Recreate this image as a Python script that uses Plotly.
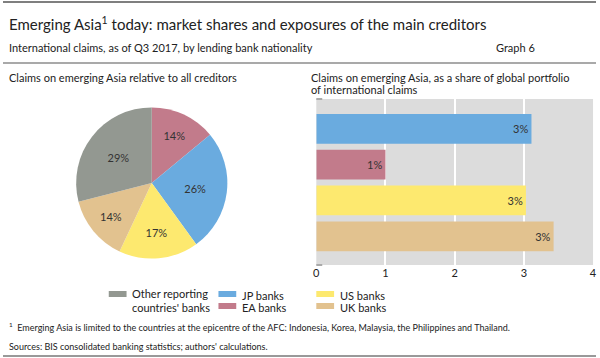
import plotly.graph_objects as go

# Data
pie_labels = ["EA banks", "JP banks", "US banks", "UK banks", "Other reporting countries' banks"]
pie_values = [14, 26, 17, 14, 29]
pie_colors = ["#c27b8b", "#6aabdf", "#fde96f", "#e2c28f", "#939891"]

bar_labels = ["JP banks", "EA banks", "US banks", "UK banks"]
bar_values = [3.11, 1.0, 3.03, 3.43]
bar_text = ["3%", "1%", "3%", "3%"]
bar_colors = ["#6aabdf", "#c27b8b", "#fde96f", "#e2c28f"]
x_ticks = [0, 1, 2, 3, 4]

FONT = "Lato"
TXT = "#222222"
W, H = 600, 358

def py(px):
    return 1 - px / H

def pxx(px):
    return px / W

fig = go.Figure()

fig.add_trace(go.Pie(
    labels=pie_labels, values=pie_values, sort=False, direction="clockwise", rotation=0,
    marker=dict(colors=pie_colors, line=dict(width=0)),
    texttemplate="%{value}%", textposition="inside", insidetextorientation="horizontal",
    textfont=dict(family=FONT, size=11, color="#333333"),
    domain=dict(x=[pxx(74), pxx(227)], y=[py(259), py(107)]),
    showlegend=False, hoverinfo="label+value",
))

fig.add_trace(go.Bar(
    y=list(range(len(bar_values))), x=bar_values, orientation="h",
    marker=dict(color=bar_colors, line=dict(width=0)), width=0.83,
    text=bar_text, textposition="inside", insidetextanchor="end",
    textfont=dict(family=FONT, size=11, color="#333333"),
    hovertext=bar_labels, showlegend=False, xaxis="x", yaxis="y",
))

fig.update_layout(
    width=W, height=H, margin=dict(l=0, r=0, t=0, b=0),
    paper_bgcolor="white", plot_bgcolor="#dcdcdc",
    font=dict(family=FONT, color=TXT),
    xaxis=dict(domain=[pxx(317), pxx(597)], range=[0, 4], tickvals=x_ticks,
               showgrid=True, gridcolor="white", gridwidth=1.5, zeroline=False,
               showline=False, ticks="", tickfont=dict(size=11, color=TXT), ticklen=0,
               ticklabeloverflow="allow"),
    yaxis=dict(domain=[py(265), py(99)], range=[3.8, -0.83], showticklabels=False,
               showgrid=False, zeroline=False, ticks=""),
)

shapes = []
# horizontal rules
for y, w, c in [(2, 1.5, "#555555"), (63, 1.2, "#555555"), (356, 1.5, "#777777")]:
    shapes.append(dict(type="line", xref="paper", yref="paper", x0=0, x1=1, y0=py(y), y1=py(y),
                       line=dict(color=c, width=w)))
# small axis stubs at the left edge of the bar panel
for y in (99, 265):
    shapes.append(dict(type="line", xref="paper", yref="paper", x0=pxx(317), x1=pxx(323),
                       y0=py(y), y1=py(y), line=dict(color="#aaaaaa", width=2)))

# legend
legend_items = [
    (107, 291, "#939891", ["Other reporting", "countries' banks"], [293, 307]),
    (218, 291, "#6aabdf", ["JP banks"], [295]),
    (218, 303, "#c27b8b", ["EA banks"], [307]),
    (317, 291, "#fde96f", ["US banks"], [295]),
    (317, 303, "#e2c28f", ["UK banks"], [307]),
]
annotations = []
for x0, y0, col, lines, tys in legend_items:
    shapes.append(dict(type="rect", xref="paper", yref="paper", x0=pxx(x0), x1=pxx(x0 + 18),
                       y0=py(y0 + 6), y1=py(y0), fillcolor=col, line=dict(width=0)))
    for line, ty in zip(lines, tys):
        annotations.append(dict(x=pxx(x0 + 22), y=py(ty), xref="paper", yref="paper", text=line,
                                showarrow=False, xanchor="left", yanchor="middle",
                                font=dict(size=11, color=TXT)))

texts = [
    (4, 23, "Emerging Asia<sup>1</sup> today: market shares and exposures of the main creditors", 15, "left"),
    (4, 47, "International claims, as of Q3 2017, by lending bank nationality", 11, "left"),
    (497, 47, "Graph 6", 11, "left"),
    (4, 77, "Claims on emerging Asia relative to all creditors", 11, "left"),
    (310, 77, "Claims on emerging Asia, as a share of global portfolio", 11, "left"),
    (310, 89, "of international claims", 11, "left"),
    (4, 327, "<sup>1</sup>  Emerging Asia is limited to the countries at the epicentre of the AFC: Indonesia, Korea, Malaysia, the Philippines and Thailand.", 9, "left"),
    (4, 346, "Sources: BIS consolidated banking statistics; authors' calculations.", 9, "left"),
]
for x, y, t, s, a in texts:
    annotations.append(dict(x=pxx(x), y=py(y), xref="paper", yref="paper", text=t, showarrow=False,
                            xanchor=a, yanchor="middle", font=dict(size=s, color=TXT)))

fig.update_layout(shapes=shapes, annotations=annotations)
fig.write_html("out.html", config={"displayModeBar": False},
               post_script="document.body.style.margin='0';document.body.style.overflow='hidden';")
